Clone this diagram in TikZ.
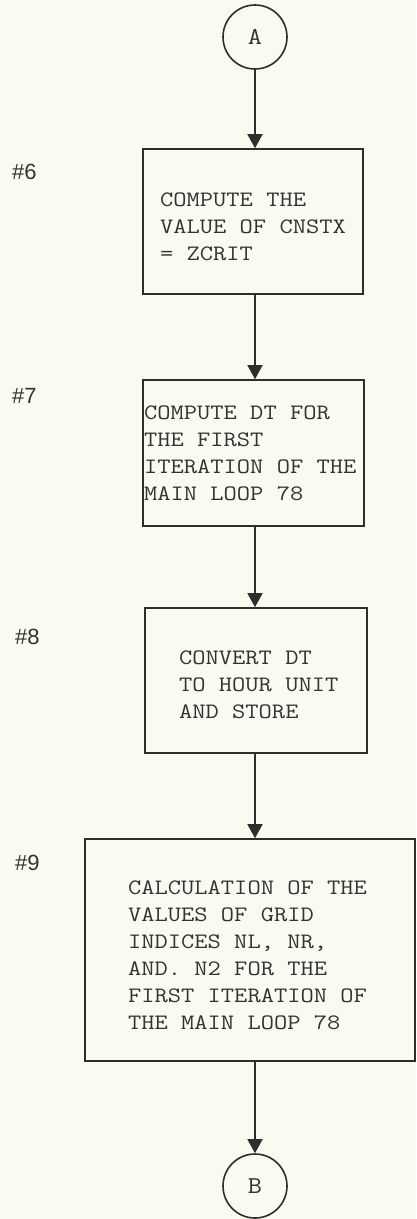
\documentclass[tikz,border=0pt]{standalone}
\usepackage{fontspec}
\usepackage{graphicx}
\newfontfamily\labfont{Liberation Sans}
\usetikzlibrary{arrows.meta}
\definecolor{paper}{HTML}{F9FAF0}
\definecolor{ink}{HTML}{2E2E2E}
\definecolor{txt}{HTML}{333333}
\newcommand{\twfont}{\ttfamily\fontsize{22}{27}\selectfont}
\newcommand{\twlines}[1]{\scalebox{1.17}[1]{\begin{tabular}[t]{@{}l@{}}#1\end{tabular}}}
\tikzset{
  stepbox/.style={draw=ink, line width=1.6pt, rectangle, inner sep=0pt},
  conn/.style={draw=ink, line width=1.6pt, circle, inner sep=0pt, minimum size=64pt,
     font=\twfont, text=txt},
  boxtext/.style={anchor=base west, inner sep=0pt, text=txt, font=\twfont},
  steplabel/.style={anchor=west, inner sep=0pt, text=txt, font=\labfont\fontsize{22}{24}\selectfont},
  arr/.style={draw=ink, line width=1.6pt, -{Triangle[width=15pt,length=14pt]}}
}
\begin{document}
\begin{tikzpicture}[x=1pt,y=-1pt]
\fill[paper] (0,0) rectangle (416,1219);
\useasboundingbox (0,0) rectangle (416,1219);

\node[conn] (A) at (255,37) {\scalebox{1.25}[1.1]{A}};
\node[stepbox, minimum width=220pt, minimum height=145pt] (b1) at (253,221.5) {};
\node[stepbox, minimum width=221pt, minimum height=146pt] (b2) at (253.5,453) {};
\node[stepbox, minimum width=222pt, minimum height=145pt] (b3) at (256,680.5) {};
\node[stepbox, minimum width=330pt, minimum height=222pt] (b4) at (250,950) {};
\node[conn] (B) at (255,1186) {\scalebox{1.25}[1.1]{B}};

\node[boxtext] (t1) at (160,206) {\twlines{COMPUTE THE\\VALUE OF CNSTX\\= ZCRIT}};
\node[boxtext] (t2) at (144,419) {\twlines{COMPUTE DT FOR\\THE FIRST\\ITERATION OF THE\\MAIN LOOP 78}};
\node[boxtext] (t3) at (179,664) {\twlines{CONVERT DT\\TO HOUR UNIT\\AND STORE}};
\node[boxtext] (t4) at (128,894) {\twlines{CALCULATION OF THE\\VALUES OF GRID\\INDICES NL, NR,\\AND. N2 FOR THE\\FIRST ITERATION OF\\THE MAIN LOOP 78}};

\node[steplabel] (l6) at (12,172) {\#6};
\node[steplabel] (l7) at (12,396) {\#7};
\node[steplabel] (l8) at (15,637) {\#8};
\node[steplabel] (l9) at (15,863) {\#9};

\draw[arr] (A.south) -- (A.south |- b1.north);
\draw[arr] (A |- b1.south) -- (A |- b2.north);
\draw[arr] (A |- b2.south) -- (A |- b3.north);
\draw[arr] (A |- b3.south) -- (A |- b4.north);
\draw[arr] (A |- b4.south) -- (B.north);
\end{tikzpicture}
\end{document}
